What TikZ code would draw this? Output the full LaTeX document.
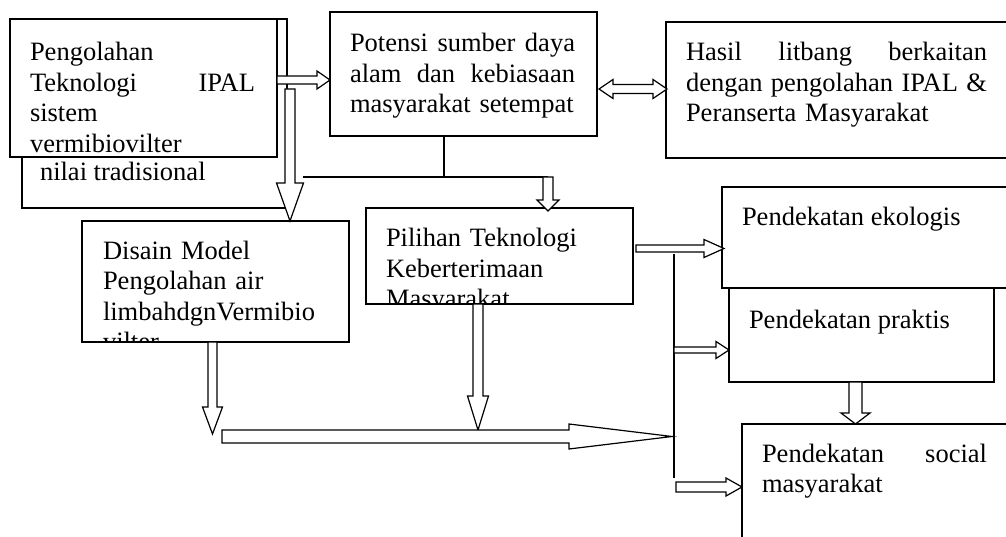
\documentclass[tikz,border=0pt]{standalone}
\usepackage{fontspec}
\setmainfont{Liberation Serif}
\usetikzlibrary{calc}
\tikzset{
  box/.style={draw, line width=1.6pt, rectangle, anchor=north west, inner sep=0pt, outer sep=0pt},
  txt/.style={anchor=north west, inner sep=0pt, outer sep=0pt, align=left, font=\fontsize{26.5}{30.5}\selectfont},
  barr/.style={draw, fill=white, line width=1.2pt, line join=miter},
  conn/.style={draw, line width=1.5pt},
}
\newcommand\fr{\rule{0pt}{20pt}}
% block arrow: from, to, half shaft width, half head width, head length
\newcommand\blockarr[5]{%
  \coordinate (bh) at ($(#2)!#5!(#1)$);
  \path[barr] ($(#1)!#3!90:(#2)$) -- ($(bh)!#3!90:(#2)$) -- ($(bh)!#4!90:(#2)$) -- (#2)
     -- ($(bh)!#4!-90:(#2)$) -- ($(bh)!#3!-90:(#2)$) -- ($(#1)!#3!-90:(#2)$) -- cycle;
}
\begin{document}
\begin{tikzpicture}[x=1pt,y=-1pt]
\clip (0,0) rectangle (1006,537);
\fill[white] (0,0) rectangle (1006,537);

% back box and front box
\node[box, minimum width=265pt, minimum height=189pt] (back) at (22,19) {};
\node[txt] (backtxt) at (40,161) {\fr nilai tradisional};
\node[box, fill=white, minimum width=267pt, minimum height=138pt] (front) at (10,19) {};
\node[txt, text width=225pt] (fronttxt) at (30,41) {\fr Pengolahan\\ Teknologi\hfill IPAL\\ sistem\\ vermibiovilter};

% Potensi
\node[box, minimum width=267pt, minimum height=124pt] (pot) at (330,12) {};
\node[txt, text width=225pt] (pottxt) at (350,32) {\fr Potensi\hfill sumber\hfill daya\\ alam\hfill dan\hfill kebiasaan\\ masyarakat setempat};

% Hasil
\node[box, minimum width=350pt, minimum height=136pt] (hasil) at (666,22) {};
\node[txt, text width=301pt] (hasiltxt) at (686,41) {\fr Hasil\hfill litbang\hfill berkaitan\\ dengan\hfill pengolahan\hfill IPAL\hfill \&\\ Peranserta Masyarakat};

% Disain
\node[box, minimum width=267pt, minimum height=121pt] (disain) at (82,221) {};
\begin{scope}
  \clip (disain.north west) rectangle (disain.south east);
  \node[txt, text width=240pt] (disaintxt) at (103,239) {\fr Disain Model\\ Pengolahan air\\ limbahdgnVermibio\\ vilter};
\end{scope}

% Pilihan
\node[box, minimum width=267pt, minimum height=96pt] (pilihan) at (366,208) {};
\begin{scope}
  \clip (pilihan.north west) rectangle (pilihan.south east);
  \node[txt, text width=240pt] (pilihantxt) at (386,227) {\fr Pilihan Teknologi\\ Keberterimaan\\ Masyarakat};
\end{scope}

% Pendekatan boxes
\node[box, minimum width=300pt, minimum height=101pt] (eko) at (722,187) {};
\node[txt] (ekotxt) at (742,206) {\fr Pendekatan ekologis};
\node[box, minimum width=265pt, minimum height=94pt] (prak) at (729,288) {};
\node[txt] (praktxt) at (749,308) {\fr Pendekatan praktis};
\node[box, minimum width=280pt, minimum height=130pt] (soc) at (742,424) {};
\node[txt, text width=225pt] (soctxt) at (762,442) {\fr Pendekatan\hfill social\\ masyarakat};

% plain connector lines
\coordinate (j0) at (pot.south -| 444,0);
\coordinate (j1) at (444,177);
\coordinate (j2) at (303,177);
\coordinate (j3) at (548,177);
\draw[conn] (j0) -- (j1);
\draw[conn] (j2) -- (j3);
\coordinate (v0) at (674,254);
\coordinate (v1) at (674,478);
\draw[conn] (v0) -- (v1);

% block arrows
\coordinate (a1s) at (front.east |- 0,80);
\coordinate (a1e) at (pot.west |- 0,80);
\blockarr{a1s}{a1e}{4pt}{9pt}{13pt}

\coordinate (a2s) at (290,89);
\coordinate (a2e) at (disain.north -| 290,0);
\blockarr{a2s}{a2e}{5pt}{13.5pt}{38pt}

\coordinate (a3e) at ($(pilihan.north -| 548,0)+(0,3)$);
\blockarr{j3}{a3e}{5pt}{11pt}{11pt}

% double arrow Potensi <-> Hasil
\coordinate (dL) at ($(pot.east |- 0,89)+(2,0)$);
\coordinate (dR) at ($(hasil.west |- 0,89)+(1,0)$);
\coordinate (dh1) at ($(dL)!14pt!(dR)$);
\coordinate (dh2) at ($(dR)!14pt!(dL)$);
\path[barr] (dL) -- ($(dh1)!9.5pt!90:(dR)$) -- ($(dh1)!4.5pt!90:(dR)$) -- ($(dh2)!4.5pt!90:(dR)$)
   -- ($(dh2)!9.5pt!90:(dR)$) -- (dR) -- ($(dh2)!9.5pt!-90:(dR)$) -- ($(dh2)!4.5pt!-90:(dR)$)
   -- ($(dh1)!4.5pt!-90:(dR)$) -- ($(dh1)!9.5pt!-90:(dR)$) -- cycle;

\coordinate (a4s) at ($(pilihan.east |- 0,248.5)+(3,0)$);
\coordinate (a4e) at ($(eko.west |- 0,248.5)+(2,0)$);
\blockarr{a4s}{a4e}{3.5pt}{9pt}{20pt}

\coordinate (a5s) at (674,350);
\coordinate (a5e) at (prak.west |- 0,350);
\blockarr{a5s}{a5e}{3pt}{8.5pt}{13pt}

\coordinate (a6s) at (676,487);
\coordinate (a6e) at (soc.west |- 0,487);
\blockarr{a6s}{a6e}{5pt}{9pt}{16pt}

\coordinate (a7s) at (prak.south -| 855.5,0);
\coordinate (a7e) at (soc.north -| 855.5,0);
\blockarr{a7s}{a7e}{6.5pt}{14.5pt}{11pt}

\coordinate (a8s) at (disain.south -| 212.5,0);
\coordinate (a8e) at (212.5,434);
\blockarr{a8s}{a8e}{4.5pt}{10pt}{27pt}

\coordinate (a9s) at (pilihan.south -| 478,0);
\coordinate (a9e) at (478,430);
\blockarr{a9s}{a9e}{5pt}{10.5pt}{34pt}

\coordinate (a10s) at (222,436.5);
\coordinate (a10e) at (672,436.5);
\blockarr{a10s}{a10e}{6.5pt}{12.5pt}{103pt}
\end{tikzpicture}
\end{document}
